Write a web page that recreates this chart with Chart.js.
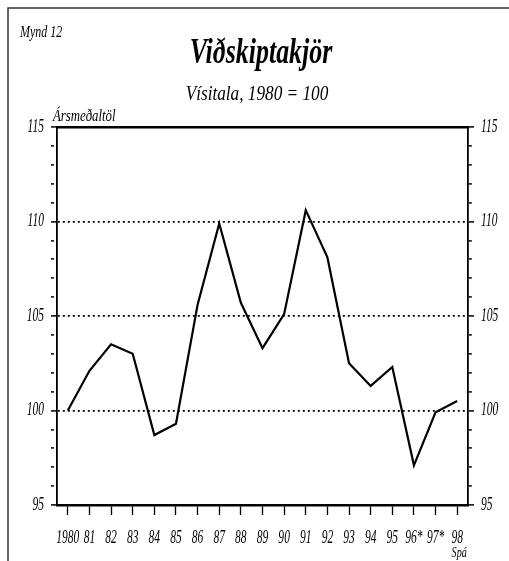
<!DOCTYPE html>
<html>
<head>
<meta charset="utf-8">
<script src="https://cdn.jsdelivr.net/npm/chart.js@4/dist/chart.umd.min.js"></script>
<style>
  html, body { margin: 0; padding: 0; background: #fff; }
  #wrap { width: 509px; height: 561px; }
</style>
</head>
<body>
<div id="wrap"><canvas id="chart" width="509" height="561"></canvas></div>
<script>
// data
const years = ['1980', '81', '82', '83', '84', '85', '86', '87', '88', '89', '90', '91', '92', '93', '94', '95', '96*', '97*', '98'];
const tradeIndex = [100, 102.1, 103.5, 103.0, 98.7, 99.3, 105.6, 109.9, 105.7, 103.3, 105.1, 110.6, 108.1, 102.5, 101.3, 102.3, 97.1, 99.9, 100.5];
const yMin = 95;
const yMax = 115;
const yLabelStep = 5;

const FONT = "'Liberation Serif', 'Times New Roman', serif";
let squeeze = 0.64;

// the original uses a narrow serif; squeeze every text draw horizontally
const narrowText = {
    id: 'narrowText',
    beforeInit(chart) {
        const ctx = chart.ctx;
        const fill = ctx.fillText.bind(ctx);
        ctx.fillText = function (text, x, y) {
            ctx.save();
            ctx.translate(x, y);
            ctx.scale(squeeze, 1);
            fill(text, 0, 0);
            ctx.restore();
        };
    },
    beforeDraw(chart) {
        const ctx = chart.ctx;
        squeeze = 0.64;
        // page frame
        ctx.save();
        ctx.strokeStyle = '#333';
        ctx.lineWidth = 1.5;
        ctx.beginPath();
        ctx.moveTo(8, 561);
        ctx.lineTo(8, 8);
        ctx.lineTo(509, 8);
        ctx.stroke();
        ctx.restore();
    },
    afterDraw(chart) {
        const ctx = chart.ctx;
        const x = chart.scales.x;
        ctx.save();
        ctx.fillStyle = '#000';
        ctx.textBaseline = 'alphabetic';

        squeeze = 0.75;
        ctx.textAlign = 'left';
        ctx.font = 'italic 16px ' + FONT;
        ctx.fillText('Mynd 12', 20, 37);

        squeeze = 0.72;
        ctx.textAlign = 'center';
        ctx.font = 'italic bold 36px ' + FONT;
        ctx.fillText('Viðskiptakjör', 261, 63);

        squeeze = 0.82;
        ctx.font = 'italic 21px ' + FONT;
        ctx.fillText('Vísitala, 1980 = 100', 257, 100);

        squeeze = 0.8;
        ctx.textAlign = 'left';
        ctx.font = 'italic 16px ' + FONT;
        ctx.fillText('Ársmeðaltöl', 53, 121);

        squeeze = 0.72;
        ctx.textAlign = 'center';
        ctx.font = 'italic 14px ' + FONT;
        ctx.fillText('Spá', x.getPixelForValue(years.length - 1) + 2, 557);

        ctx.restore();
        squeeze = 0.64;
    }
};

const minorDash = (c) => (c.tick && c.tick.value % yLabelStep === 0) ? [] : [3, 30];

function yAxis(position, drawGrid) {
    return {
        position: position,
        min: yMin,
        max: yMax,
        afterFit: (scale) => { scale.width = position === 'left' ? 57 : 41; },
        ticks: {
            stepSize: 1,
            autoSkip: false,
            padding: 7,
            color: '#000',
            font: { family: FONT, size: 18, style: 'italic' },
            callback: (v) => v % yLabelStep === 0 ? String(v) : ''
        },
        grid: {
            drawOnChartArea: drawGrid,
            color: (c) => {
                const v = c.tick ? c.tick.value : null;
                return (v % yLabelStep === 0 && v !== yMin && v !== yMax) ? '#000' : 'rgba(0,0,0,0)';
            },
            lineWidth: 1.8,
            tickLength: 6,
            tickColor: '#000',
            tickWidth: 1.5,
            tickBorderDash: minorDash
        },
        border: { display: true, color: '#000', width: 1.8, dash: [2, 3] }
    };
}

new Chart(document.getElementById('chart'), {
    type: 'line',
    data: {
        labels: years,
        datasets: [{
            data: tradeIndex,
            borderColor: '#000',
            borderWidth: 2.2,
            pointRadius: 0,
            tension: 0,
            yAxisID: 'y',
            xAxisID: 'x'
        }]
    },
    options: {
        responsive: false,
        animation: false,
        layout: { padding: { top: 127, left: 0, right: 0, bottom: 0 } },
        plugins: {
            legend: { display: false },
            title: { display: false },
            tooltip: { enabled: false }
        },
        scales: {
            x: {
                position: 'bottom',
                offset: true,
                afterFit: (scale) => { scale.height = 56; },
                ticks: {
                    autoSkip: false,
                    maxRotation: 0,
                    padding: 12,
                    color: '#000',
                    font: { family: FONT, size: 18, style: 'italic' }
                },
                grid: {
                    offset: false,
                    drawOnChartArea: false,
                    tickLength: 10,
                    tickColor: '#000',
                    tickWidth: 1.3
                },
                border: { display: true, color: '#000', width: 2.5 }
            },
            xTop: {
                type: 'category',
                position: 'top',
                labels: years,
                offset: true,
                afterFit: (scale) => { scale.height = 0; },
                ticks: { display: false },
                grid: { display: false, drawTicks: false },
                border: { display: true, color: '#000', width: 2.5 }
            },
            y: yAxis('left', true),
            y2: yAxis('right', false)
        }
    },
    plugins: [narrowText]
});
</script>
</body>
</html>
